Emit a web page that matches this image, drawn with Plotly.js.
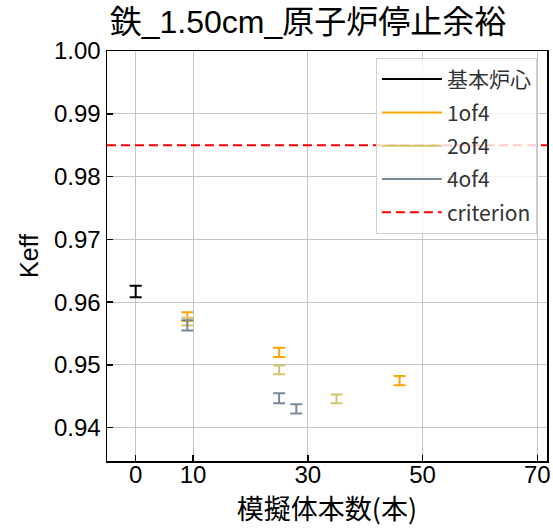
<!DOCTYPE html>
<html>
<head>
<meta charset="utf-8">
<script src="https://cdn.plot.ly/plotly-3.0.1.min.js"></script>
<style>html,body{margin:0;padding:0;background:#fff;}</style>
</head>
<body>
<div id="chart" style="width:553px;height:530px;"></div>
<script>
// ---- data ----
const seriesNames = ['基本炉心', '1of4', '2of4', '4of4'];
const baseX = [0];
const baseY = [0.9617];
const baseErr = [0.0009];
const of1X = [9, 25, 46];
const of1Y = [0.9577, 0.9520, 0.9475];
const of1Err = [0.0007, 0.00075, 0.00075];
const of2X = [9, 25, 35];
const of2Y = [0.9569, 0.9492, 0.9446];
const of2Err = [0.0006, 0.0007, 0.0007];
const of4X = [9, 25, 28];
const of4Y = [0.9563, 0.9447, 0.9430];
const of4Err = [0.0008, 0.0008, 0.00075];
const criterionName = 'criterion';
const criterionValue = 0.985;
const xTicks = [0, 10, 30, 50, 70];
const yTicks = [0.94, 0.95, 0.96, 0.97, 0.98, 0.99, 1.00];
const xRange = [-5.0, 71.7];
const yRange = [0.9347, 1.0];

const colors = ['#000000', '#FFA500', '#D6C36E', '#778899'];
const seriesData = [
  [baseX, baseY, baseErr],
  [of1X, of1Y, of1Err],
  [of2X, of2Y, of2Err],
  [of4X, of4Y, of4Err]
];

const traces = [];
seriesData.forEach(function (s, si) {
  s[0].forEach(function (xv, i) {
    traces.push({
      type: 'scatter', mode: 'lines',
      x: [xv], y: [s[1][i]],
      name: seriesNames[si],
      legendgroup: 'g' + si,
      showlegend: i === 0,
      line: {color: colors[si], width: 2},
      error_y: {type: 'data', array: [s[2][i]], visible: true, color: colors[si], thickness: 2, width: 6},
      hoverinfo: 'skip'
    });
  });
});
traces.push({
  type: 'scatter', mode: 'lines',
  x: xRange, y: [criterionValue, criterionValue],
  name: criterionName, legendgroup: 'gc',
  line: {color: '#ff0000', width: 2, dash: '9px,5px'},
  hoverinfo: 'skip'
});

const layout = {
  width: 553, height: 530,
  margin: {l: 107, r: 6, t: 51, b: 69, pad: 0},
  paper_bgcolor: '#ffffff', plot_bgcolor: '#ffffff',
  font: {family: 'Liberation Sans, Arial, Noto Sans CJK JP', color: '#000'},
  title: {
    text: '鉄_1.50cm_原子炉停止余裕',
    font: {size: 32, family: 'Liberation Sans, Noto Sans CJK JP', color: '#000'},
    x: 0.557, xref: 'container', xanchor: 'center',
    y: 0.958, yref: 'container', yanchor: 'middle'
  },
  xaxis: {
    range: xRange, tickvals: xTicks, ticktext: xTicks.map(String),
    showgrid: true, gridcolor: '#c4c4c4', gridwidth: 1,
    zeroline: false, showline: true, linecolor: '#000', linewidth: 1.5, mirror: true,
    ticks: 'inside', ticklen: 6, tickcolor: '#000', tickwidth: 1.5,
    ticklabelstandoff: -8,
    tickfont: {size: 24, family: 'Liberation Sans, Arial'},
    title: {text: '模擬体本数(本)', font: {size: 27, family: 'Noto Sans CJK JP'}, standoff: 11}
  },
  yaxis: {
    range: yRange, tickvals: yTicks, ticktext: yTicks.map(function (v) { return v.toFixed(2); }),
    showgrid: true, gridcolor: '#c4c4c4', gridwidth: 1,
    zeroline: false, showline: true, linecolor: '#000', linewidth: 1.5, mirror: true,
    ticks: 'inside', ticklen: 6, tickcolor: '#000', tickwidth: 1.5,
    tickfont: {size: 24, family: 'Liberation Sans, Arial'},
    title: {text: 'Keff', font: {size: 25, family: 'Liberation Sans, Arial'}, standoff: 8}
  },
  showlegend: true,
  legend: {
    x: 0.977, xanchor: 'right', y: 0.983, yanchor: 'top',
    bgcolor: 'rgba(255,255,255,0.8)', bordercolor: '#d0d0d0', borderwidth: 1,
    font: {size: 21, family: 'Noto Sans CJK JP', color: '#333'},
    tracegroupgap: 3, itemwidth: 60
  }
};

Plotly.newPlot('chart', traces, layout, {staticPlot: true, displayModeBar: false});
</script>
</body>
</html>
